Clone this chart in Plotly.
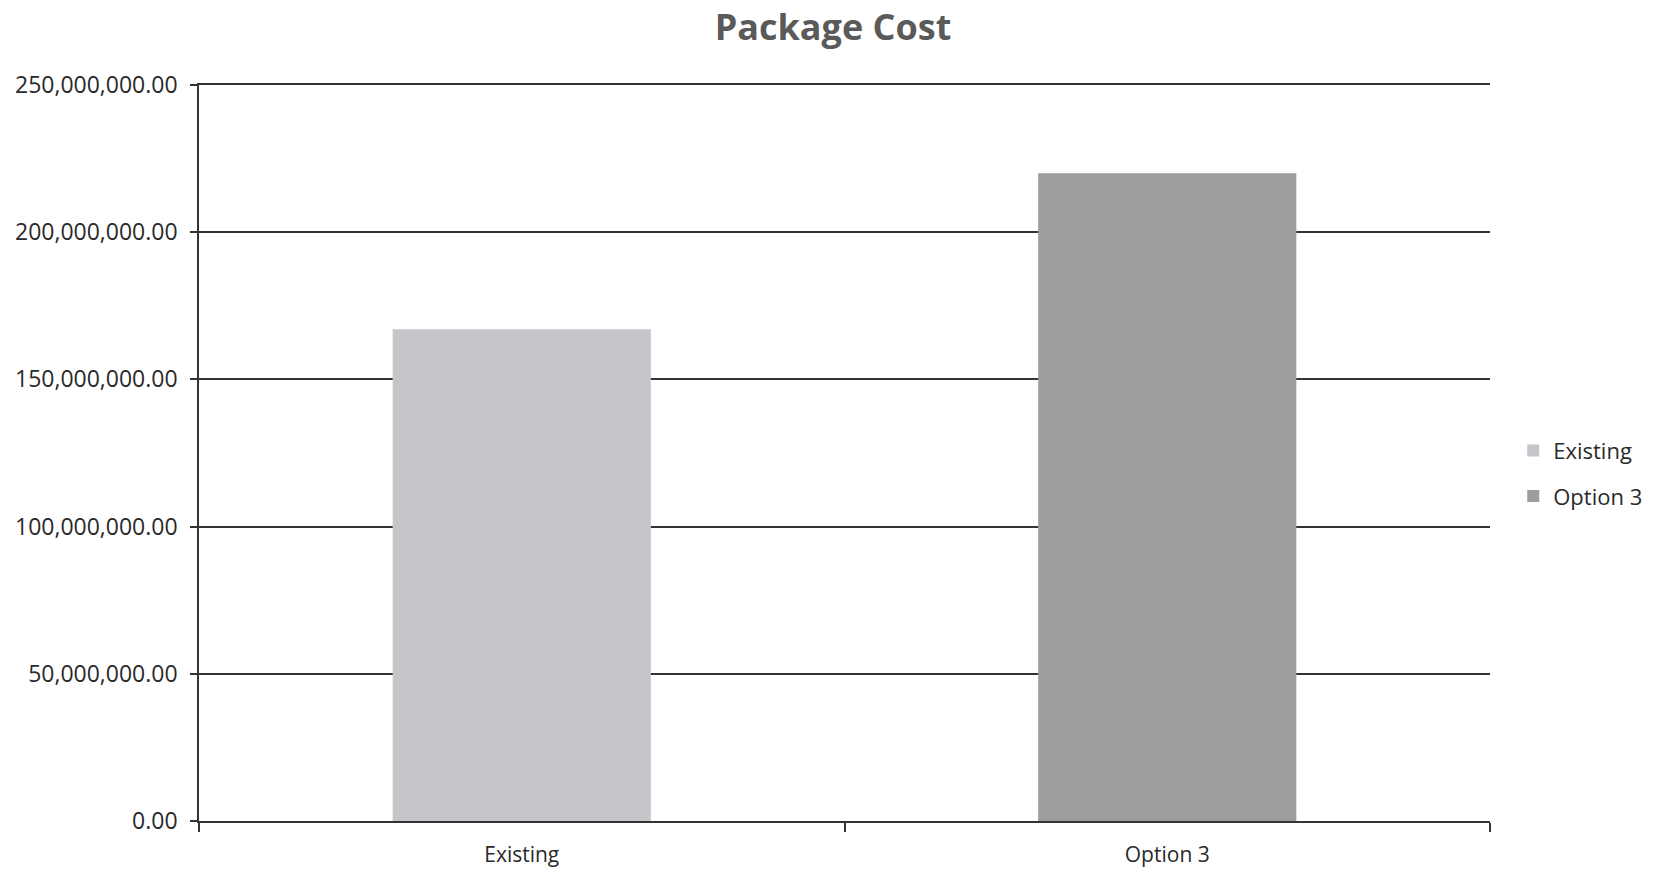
import plotly.graph_objects as go

# Package cost per option
categories = ["Existing", "Option 3"]
costs = [167_000_000, 220_000_000]
bar_colors = ["#c4c6c9", "#9c9d9e"]
y_ticks = [0, 50_000_000, 100_000_000, 150_000_000, 200_000_000, 250_000_000]

FONT = "Open Sans, Liberation Sans, sans-serif"
LINE = "#333333"

fig = go.Figure()
for cat, val, col in zip(categories, costs, bar_colors):
    fig.add_trace(go.Bar(
        x=[cat], y=[val], name=cat, legendgroup=cat,
        marker=dict(color=col, line=dict(width=0)),
        width=0.4,
    ))

fig.update_layout(
    width=1654, height=869,
    barmode="overlay",
    paper_bgcolor="white", plot_bgcolor="white",
    margin=dict(l=199, r=164, t=85, b=48, autoexpand=False),
    title=dict(
        text="<b>Package Cost</b>",
        x=833 / 1654, xanchor="center",
        y=1 - 27 / 869, yanchor="middle",
        font=dict(family=FONT, size=36, color="#5a5a5a"),
    ),
    font=dict(family=FONT, color="#2a2a2a"),
    showlegend=True,
    legend=dict(
        x=1.018, xanchor="left", y=0.472, yanchor="middle",
        font=dict(family=FONT, size=22, color="#2a2a2a"),
        traceorder="grouped", tracegroupgap=14, itemwidth=30,
        bgcolor="rgba(0,0,0,0)",
    ),
)

fig.update_yaxes(
    range=[0, 250_000_000],
    tickvals=y_ticks, tickformat=",.2f",
    tickfont=dict(family=FONT, size=23, color="#2a2a2a"),
    showgrid=True, gridcolor=LINE, gridwidth=1.6,
    showline=True, linecolor=LINE, linewidth=1.6,
    ticks="outside", ticklen=7, tickcolor=LINE, tickwidth=1.6,
    zeroline=False, ticklabelstandoff=8, automargin=False,
)
fig.update_xaxes(
    categoryorder="array", categoryarray=categories,
    tickfont=dict(family=FONT, size=21, color="#2a2a2a"),
    showline=True, linecolor=LINE, linewidth=1.6, mirror=True,
    ticks="outside", tickson="boundaries", ticklen=9, tickcolor=LINE,
    tickwidth=1.6, showgrid=False, ticklabelstandoff=14, automargin=False,
)

fig.write_html("out.html")
